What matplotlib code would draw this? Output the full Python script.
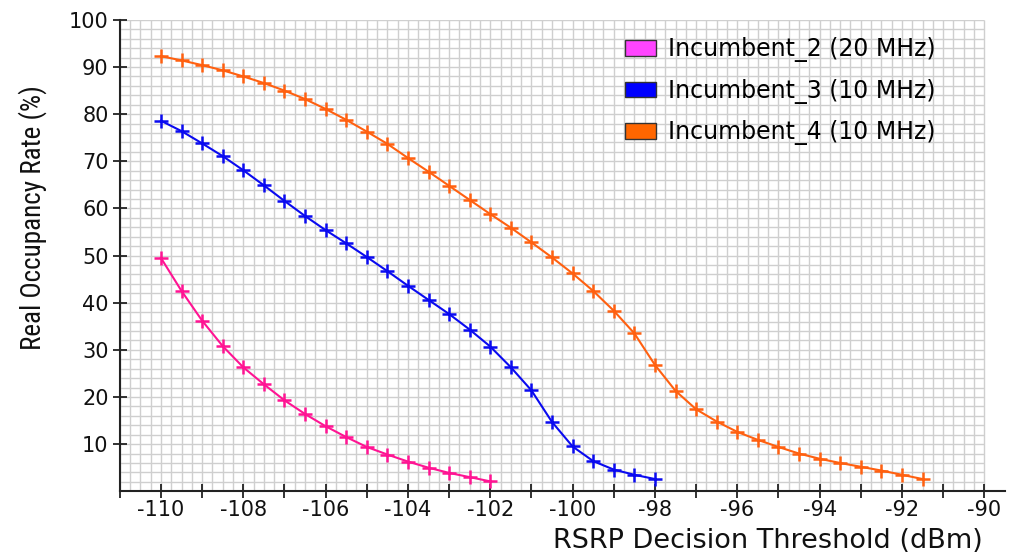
import numpy as np
import matplotlib
matplotlib.use("Agg")
import matplotlib.pyplot as plt
from matplotlib.patches import Patch


# =========================
# DATA
# =========================
X_INC2 = np.arange(-110, -101.9, 0.5)
Y_INC2 = [49.5, 42.5, 36.2, 30.8, 26.3, 22.7, 19.3, 16.4, 13.8, 11.5,
          9.4, 7.8, 6.3, 5.0, 3.9, 3.0, 2.1]

X_INC3 = np.arange(-110, -97.9, 0.5)
Y_INC3 = [78.6, 76.4, 73.8, 71.1, 68.1, 64.9, 61.6, 58.4, 55.4, 52.6,
          49.7, 46.7, 43.6, 40.6, 37.6, 34.3, 30.7, 26.3, 21.4, 14.7,
          9.5, 6.4, 4.6, 3.5, 2.6]

X_INC4 = np.arange(-110, -91.4, 0.5)
Y_INC4 = [92.3, 91.4, 90.4, 89.3, 88.0, 86.6, 85.0, 83.2, 81.1, 78.8,
          76.3, 73.7, 70.7, 67.8, 64.8, 61.8, 58.8, 55.9, 52.8, 49.6,
          46.2, 42.5, 38.3, 33.5, 26.8, 21.3, 17.4, 14.8, 12.6, 10.9,
          9.4, 8.0, 6.9, 6.0, 5.2, 4.4, 3.5, 2.6]

LABELS = ["Incumbent_2 (20 MHz)", "Incumbent_3 (10 MHz)", "Incumbent_4 (10 MHz)"]
LINE_COLOURS = ["#FF1493", "#0A0AF0", "#FF6010"]
LEGEND_COLOURS = ["#FF44FF", "#0000FF", "#FF6600"]

X_LABEL = "RSRP Decision Threshold (dBm)"
Y_LABEL = "Real Occupancy Rate (%)"


# =========================
# PLOT
# =========================
fig = plt.figure(figsize=(10.15, 5.52), dpi=100)
ax = fig.add_axes([0.118, 0.110, 0.872, 0.854])

ax.set_xlim(-111, -89.5)
ax.set_ylim(0, 100)

# grid (stops at -90 on the right)
grid_x = np.arange(-111, -89.99, 0.25)
grid_y = np.arange(0, 100.1, 2)
ax.vlines(grid_x, 0, 100, color="#cfcfcf", lw=1.0, zorder=0)
ax.hlines(grid_y, -111, -90, color="#cfcfcf", lw=1.0, zorder=0)

for xs, ys, col in zip([X_INC2, X_INC3, X_INC4], [Y_INC2, Y_INC3, Y_INC4], LINE_COLOURS):
    ax.plot(xs, ys, color=col, lw=1.5, marker="+", ms=10, mew=1.8, zorder=3)

for s in ["top", "right"]:
    ax.spines[s].set_visible(False)
for s in ["left", "bottom"]:
    ax.spines[s].set_linewidth(1.5)
    ax.spines[s].set_color("#222222")

xt = np.arange(-111, -89.9, 1)
ax.set_xticks(xt)
ax.set_xticklabels([f"-{abs(int(v))}" if int(v) % 2 == 0 else "" for v in xt])
ax.set_yticks(np.arange(10, 101, 10))
ax.set_yticklabels([str(v) for v in range(10, 101, 10)])
ax.tick_params(axis="both", direction="inout", length=10, width=1.3,
               labelsize=15, colors="#222222", labelcolor="#111111")
ax.tick_params(axis="x", pad=1)
ax.tick_params(axis="y", pad=3)

fig.text(0.968, 0.020, X_LABEL, ha="right", va="center", fontsize=19.5,
         family="DejaVu Sans", color="#111111")
fig.text(0.032, 0.605, Y_LABEL, ha="center", va="center", rotation=90,
         fontsize=19.5, family=["Roboto Condensed", "Liberation Sans Narrow", "Liberation Sans"],
         fontstretch="condensed", color="#111111")

handles = [Patch(facecolor=c, edgecolor="#333333", lw=1.0) for c in LEGEND_COLOURS]
leg = ax.legend(handles, LABELS, loc="upper left", bbox_to_anchor=(0.571, 0.963),
                frameon=False, fontsize=17, handlelength=1.3, handleheight=0.65,
                labelspacing=0.7, handletextpad=0.52, borderpad=0, borderaxespad=0)

fig.savefig("out.png", dpi=100)
